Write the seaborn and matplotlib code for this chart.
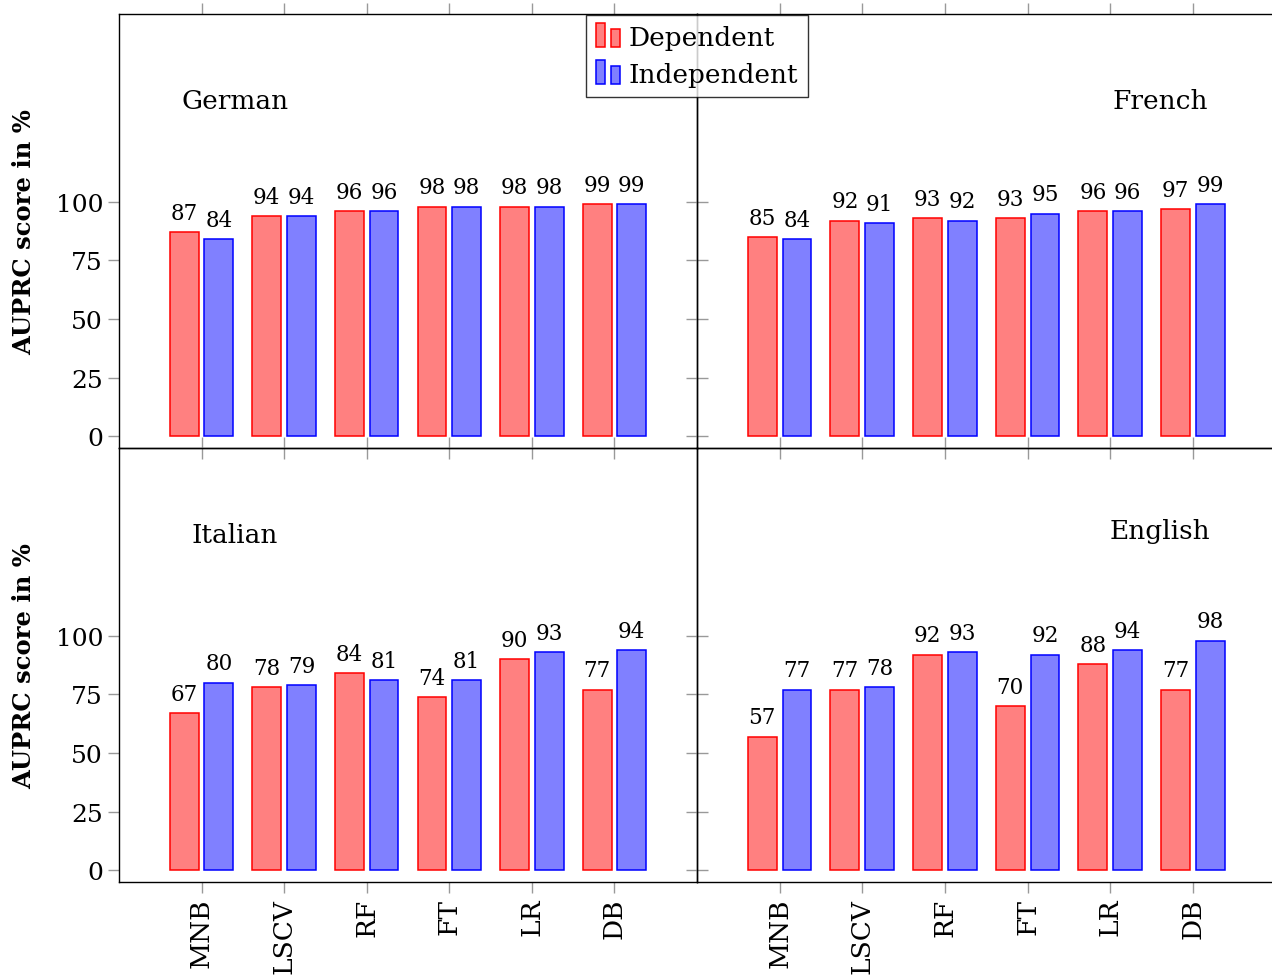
import numpy as np
import pandas as pd
import matplotlib
matplotlib.use("Agg")
import matplotlib.pyplot as plt
import seaborn as sns
from matplotlib.patches import Rectangle
from matplotlib.legend_handler import HandlerBase

categories = ["MNB", "LSCV", "RF", "FT", "LR", "DB"]
series = ["Dependent", "Independent"]
languages = ["German", "French", "Italian", "English"]

german_dep = [87, 94, 96, 98, 98, 99]
german_ind = [84, 94, 96, 98, 98, 99]
french_dep = [85, 92, 93, 93, 96, 97]
french_ind = [84, 91, 92, 95, 96, 99]
italian_dep = [67, 78, 84, 74, 90, 77]
italian_ind = [80, 79, 81, 81, 93, 94]
english_dep = [57, 77, 92, 70, 88, 77]
english_ind = [77, 78, 93, 92, 94, 98]

yticks = [0, 25, 50, 75, 100]

panel_data = {
    "German": (german_dep, german_ind),
    "French": (french_dep, french_ind),
    "Italian": (italian_dep, italian_ind),
    "English": (english_dep, english_ind),
}

sns.set_style("ticks")
plt.rcParams["font.family"] = ["DejaVu Serif"]
plt.rcParams["mathtext.fontset"] = "dejavuserif"
plt.rcParams["text.color"] = "black"
plt.rcParams["axes.labelcolor"] = "black"
plt.rcParams["xtick.labelcolor"] = "black"
plt.rcParams["ytick.labelcolor"] = "black"

fill = {"Dependent": "#FF8080", "Independent": "#8080FF"}
edge = {"Dependent": "#FF0000", "Independent": "#0000FF"}

W, H = 1272, 979
fig = plt.figure(figsize=(W / 100, H / 100), dpi=100)

def rect(x0, y0, x1, y1):
    return [x0 / W, 1 - y1 / H, (x1 - x0) / W, (y1 - y0) / H]

positions = {
    "German": rect(119, 15, 697, 449),
    "French": rect(697, 15, 1275.6, 449),
    "Italian": rect(119, 449, 697, 883),
    "English": rect(697, 449, 1275.6, 883),
}
title_pos = {
    "German": (0.2, 0.80),
    "French": (0.8, 0.80),
    "Italian": (0.2, 0.80),
    "English": (0.8, 0.81),
}

axes = {}
for lang in languages:
    dep, ind = panel_data[lang]
    df = pd.DataFrame({
        "model": categories * 2,
        "score": list(dep) + list(ind),
        "type": ["Dependent"] * len(categories) + ["Independent"] * len(categories),
    })
    ax = fig.add_axes(positions[lang])
    axes[lang] = ax
    sns.barplot(data=df, x="model", y="score", hue="type", order=categories,
                hue_order=series, palette=fill, width=0.84, gap=0.167,
                saturation=1, linewidth=1.1, ax=ax, legend=False)
    for cont, s in zip(ax.containers, series):
        for p in cont:
            p.set_edgecolor(edge[s])
            p.set_facecolor(fill[s])
        ax.bar_label(cont, labels=[str(int(round(v))) for v in cont.datavalues],
                     padding=6, fontsize=15.5, color="black")
    ax.set_xlim(-1.0, 6.0)
    ax.set_ylim(-5.1, 180.3)
    ax.set_yticks(yticks)
    ax.set_xlabel("")
    ax.set_ylabel("")
    ax.tick_params(axis="both", which="both", direction="out", length=8,
                   width=1, color="#999999", labelsize=18, labelcolor="black",
                   top=True, right=True, bottom=True, left=True)
    for sp in ax.spines.values():
        sp.set_visible(True)
        sp.set_linewidth(1.0)
        sp.set_color("black")
    ax.patch.set_alpha(0)
    tx, ty = title_pos[lang]
    ax.text(tx, ty, lang, transform=ax.transAxes, fontsize=19,
            ha="center", va="center", color="black")

for lang in ["German", "French"]:
    axes[lang].tick_params(labelbottom=False)
for lang in ["French", "English"]:
    axes[lang].tick_params(labelleft=False)
for lang in ["Italian", "English"]:
    axes[lang].set_xticks(range(len(categories)))
    axes[lang].set_xticklabels(categories, rotation=90, va="top", ha="center",
                               fontsize=19)
for lang in ["German", "Italian"]:
    axes[lang].set_ylabel("AUPRC score in %", fontsize=17.5, fontweight="bold",
                          labelpad=14, color="black")


class TwoBarHandler(HandlerBase):
    def create_artists(self, legend, orig_handle, xdescent, ydescent,
                       width, height, fontsize, trans):
        bw = width * 0.36
        r1 = Rectangle((-xdescent, -ydescent - 0.1 * height), bw, height * 1.3,
                       facecolor=orig_handle.get_facecolor(),
                       edgecolor=orig_handle.get_edgecolor(), lw=1.1,
                       transform=trans)
        r2 = Rectangle((-xdescent + width * 0.62, -ydescent - 0.1 * height), bw,
                       height * 0.95,
                       facecolor=orig_handle.get_facecolor(),
                       edgecolor=orig_handle.get_edgecolor(), lw=1.1,
                       transform=trans)
        return [r1, r2]


h_dep = Rectangle((0, 0), 1, 1, facecolor=fill["Dependent"], edgecolor=edge["Dependent"])
h_ind = Rectangle((0, 0), 1, 1, facecolor=fill["Independent"], edgecolor=edge["Independent"])
leg = fig.legend([h_dep, h_ind], series, loc="upper center",
                 bbox_to_anchor=(697 / W, 1 - 16 / H), fontsize=19,
                 frameon=True, fancybox=False, edgecolor="black",
                 handlelength=0.95, handletextpad=0.3, borderpad=0.38,
                 labelspacing=0.45, borderaxespad=0,
                 handler_map={Rectangle: TwoBarHandler()})
leg.get_frame().set_linewidth(1.0)
for t in leg.get_texts():
    t.set_color("black")

fig.savefig("out.png", dpi=100)
